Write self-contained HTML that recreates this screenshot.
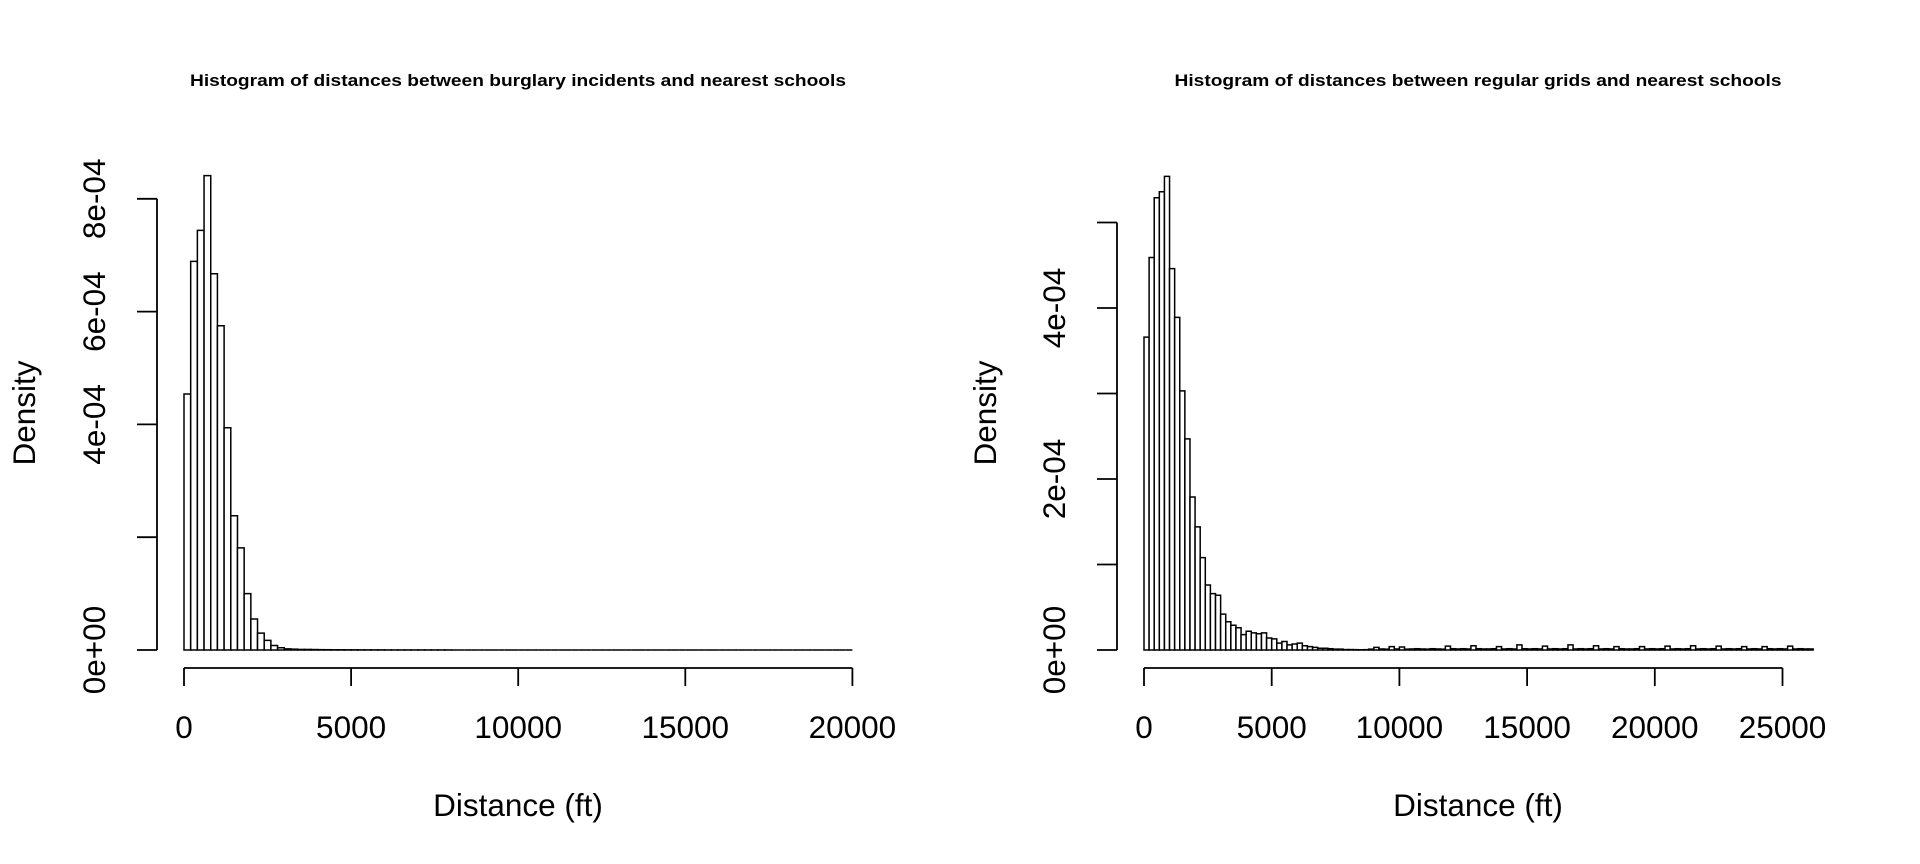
<!DOCTYPE html>
<html><head><meta charset="utf-8"><style>
html,body{margin:0;padding:0;background:#fff;}
svg{display:block;font-family:"Liberation Sans",Arial,sans-serif;}
</style></head><body>
<svg id="chart" width="1920" height="864" viewBox="0 0 1920 864" xmlns="http://www.w3.org/2000/svg">
<g id="left"></g>
<g id="right"></g>
</svg>
<script>
// Data (density values in units of 1e-4), bin width 200 ft
const binWidth = 200;
const leftDensity = [4.54,6.89,7.44,8.41,6.67,5.75,3.94,2.38,1.81,1.00,0.55,0.30,0.17,0.08,0.04,0.02,0.015,0.01,0.01,0.008,
0.006,0.005,0.004,0.004,0.003,0.003,0.002,0.002,0.002,0.002,0.001,0.001,0.001,0.001,0.001,0.001,0.001,0.001,0.001,0.001,
0,0,0,0,0,0,0,0,0,0,0,0,0,0,0,0,0,0,0,0,
0,0,0,0,0,0,0,0,0,0,0,0,0,0,0,0,0,0,0,0,
0,0,0,0,0,0,0,0,0,0,0,0,0,0,0,0,0,0,0,0];
const rightDensity = [3.66,4.59,5.29,5.36,5.54,4.46,3.89,3.03,2.47,1.79,1.44,1.08,0.76,0.66,0.64,0.42,0.33,0.29,0.26,0.18,0.22,0.20,0.19,0.20,0.14,0.13,0.08,0.10,0.06,0.07,0.08,0.05,0.04,0.03,0.02,0.02,0.015,0.01,0.01,0.005,0.005,0.004,0.003,0.004,0.01,0.03,0.012,0.01,0.04,0.012,0.035,0.01,0.012,0.015,0.012,0.01,0.015,0.012,0.01,0.045,0.015,0.012,0.015,0.012,0.05,0.015,0.012,0.012,0.015,0.04,0.012,0.015,0.012,0.06,0.015,0.012,0.015,0.012,0.045,0.012,0.015,0.012,0.015,0.06,0.012,0.015,0.012,0.015,0.05,0.012,0.015,0.012,0.04,0.015,0.012,0.012,0.015,0.04,0.012,0.015,0.012,0.015,0.045,0.012,0.015,0.012,0.015,0.05,0.012,0.015,0.012,0.015,0.045,0.012,0.015,0.012,0.015,0.04,0.012,0.015,0.012,0.04,0.015,0.012,0.015,0.012,0.045,0.012,0.015,0.012,0.012];
const leftXTicks = [0,5000,10000,15000,20000];
const rightXTicks = [0,5000,10000,15000,20000,25000];
const leftYTicks = [0,2,4,6,8];
const leftYLabels = ["0e+00","","4e-04","6e-04","8e-04"];
const rightYTicks = [0,1,2,3,4,5];
const rightYLabels = ["0e+00","","2e-04","","4e-04",""];

const NS = "http://www.w3.org/2000/svg";
function mk(parent, tag, attrs, text){
  const e = document.createElementNS(NS, tag);
  for (const k in attrs) e.setAttribute(k, attrs[k]);
  if (text !== undefined) e.textContent = text;
  parent.appendChild(e);
  return e;
}

function drawPanel(g, cfg){
  const xs = v => cfg.x0 + (v - 0) * cfg.xPer;
  const ys = v => cfg.base - v * cfg.yPer;
  const axY = 668, tickY = 686;
  cfg.data.forEach((d, i) => {
    const x1 = xs(i * binWidth), x2 = xs((i + 1) * binWidth);
    const y = ys(d);
    const r = mk(g, 'path', {d: `M${x1},${cfg.base} L${x1},${y} L${x2},${y} L${x2},${cfg.base} Z`, fill: '#fff', stroke: '#000', 'stroke-width': 1.5});
    
    
  });
  const xa = mk(g, 'g', {});
  
  
  const xt = cfg.xTicks;
  mk(xa, 'line', {x1: xs(xt[0]), x2: xs(xt[xt.length-1]), y1: axY, y2: axY, stroke: '#000', 'stroke-width': 1.8});
  xt.forEach(t => {
    mk(xa, 'line', {x1: xs(t), x2: xs(t), y1: axY, y2: tickY, stroke: '#000', 'stroke-width': 1.8});
    const lb = mk(xa, 'text', {x: xs(t), y: 738, 'font-size': 31.5, 'text-anchor': 'middle'}, String(t));
    
    
  });
  const ya = mk(g, 'g', {});
  
  
  const yt = cfg.yTicks;
  mk(ya, 'line', {x1: cfg.yAxisX, x2: cfg.yAxisX, y1: ys(yt[0]), y2: ys(yt[yt.length-1]), stroke: '#000', 'stroke-width': 1.8});
  yt.forEach((t, i) => {
    mk(ya, 'line', {x1: cfg.yAxisX - 20, x2: cfg.yAxisX, y1: ys(t), y2: ys(t), stroke: '#000', 'stroke-width': 1.8});
    if (cfg.yLabels[i]) {
      const lx = cfg.yAxisX - 52;
      const lb = mk(ya, 'text', {x: lx, y: ys(t), 'font-size': 31.5, 'text-anchor': 'middle', transform: `rotate(-90 ${lx} ${ys(t)})`}, cfg.yLabels[i]);
      
      
    }
  });
  const tt = mk(g, 'text', {x: cfg.cx, y: 86, 'font-size': 17, 'font-weight': 'bold', 'text-anchor': 'middle', textLength: cfg.titleLen, lengthAdjust: 'spacingAndGlyphs'}, cfg.title);
  
  
  const xl = mk(g, 'text', {x: cfg.cx, y: 816, 'font-size': 31.5, 'text-anchor': 'middle'}, 'Distance (ft)');
  
  
  const yx = cfg.yTitleX, yy = 413;
  const yl = mk(g, 'text', {x: yx, y: yy, 'font-size': 31.5, 'text-anchor': 'middle', transform: `rotate(-90 ${yx} ${yy})`}, 'Density');
  
  
}

drawPanel(document.getElementById('left'), {
  data: leftDensity, x0: 184, xPer: 167.1/5000, base: 650, yPer: 56.4,
  xTicks: leftXTicks, yTicks: leftYTicks, yLabels: leftYLabels, yAxisX: 157,
  cx: 518, titleLen: 656, yTitleX: 35,
  title: 'Histogram of distances between burglary incidents and nearest schools'
});
drawPanel(document.getElementById('right'), {
  data: rightDensity, x0: 1144, xPer: 127.7/5000, base: 650, yPer: 85.5,
  xTicks: rightXTicks, yTicks: rightYTicks, yLabels: rightYLabels, yAxisX: 1117,
  cx: 1478, titleLen: 607, yTitleX: 996,
  title: 'Histogram of distances between regular grids and nearest schools'
});
</script>
</body></html>
